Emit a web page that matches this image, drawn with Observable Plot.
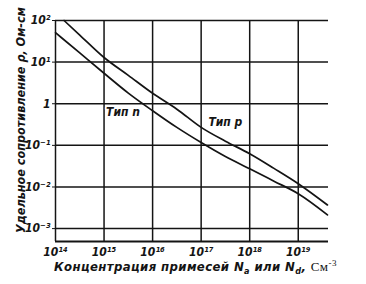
<!DOCTYPE html>
<html><head><meta charset="utf-8">
<script src="https://cdn.jsdelivr.net/npm/d3@7"></script>
<script src="https://cdn.jsdelivr.net/npm/@observablehq/plot@0.6"></script>
<style>body{margin:0;background:#fff}</style>
</head><body><div id="chart"></div>
<script>
// Concentrations (cm^-3) and resistivities (Ohm·cm)
const concN = [1e14, 3.16e14, 1e15, 3.16e15, 1e16, 3.16e16, 1e17, 3.16e17, 1e18, 3.16e18, 1e19, 4.0e19];
const rhoN  = [51, 16.6, 5.4, 1.8, 0.68, 0.27, 0.117, 0.054, 0.0275, 0.0138, 0.0069, 0.00214];
const concP = [1.5e14, 3.16e14, 1e15, 3.16e15, 1e16, 3.16e16, 1e17, 3.16e17, 1e18, 3.16e18, 1e19, 4.0e19];
const rhoP  = [100, 44.7, 12.9, 4.8, 1.78, 0.74, 0.27, 0.126, 0.063, 0.028, 0.012, 0.0037];

const xTicks = [1e14, 1e15, 1e16, 1e17, 1e18, 1e19];
const xTickLabels = ["10¹⁴", "10¹⁵", "10¹⁶", "10¹⁷", "10¹⁸", "10¹⁹"];
const yTicks = [100, 10, 1, 0.1, 0.01, 0.001];
const yTickLabels = ["10²", "10¹", "1", "10⁻¹", "10⁻²", "10⁻³"];
const xDomain = [1e14, 4.2e19];
const yDomain = [4.9e-4, 100];

const curveLabels = [
  {name: "Тип n", x: 1.1e15, y: 0.645},
  {name: "Тип p", x: 1.41e17, y: 0.355}
];

const seriesN = concN.map((c, i) => ({c, r: rhoN[i]}));
const seriesP = concP.map((c, i) => ({c, r: rhoP[i]}));

const ink = "#141414";
const fontFam = "'DejaVu Sans Condensed', 'DejaVu Sans', sans-serif";

const chart = Plot.plot({
  width: 366, height: 284,
  marginLeft: 55, marginRight: 38, marginTop: 20, marginBottom: 43,
  style: {fontFamily: fontFam, fontStyle: "italic", fontWeight: "bold", fontSize: "12px", color: ink, background: "#fff", overflow: "visible"},
  x: {type: "log", domain: xDomain, ticks: xTicks, tickFormat: d => xTickLabels[xTicks.indexOf(d)], tickSize: 0, tickPadding: 6, label: null},
  y: {type: "log", domain: yDomain, ticks: yTicks, tickFormat: d => yTickLabels[yTicks.indexOf(d)], tickSize: 3, tickPadding: 2, label: null},
  marks: [
    Plot.ruleX(xTicks, {stroke: ink, strokeWidth: 1.5}),
    Plot.ruleY(yTicks, {stroke: ink, strokeWidth: 1.5}),
    Plot.ruleY([yDomain[0]], {stroke: ink, strokeWidth: 1.8}),
    Plot.line(seriesN, {x: "c", y: "r", stroke: ink, strokeWidth: 1.7, curve: "monotone-x"}),
    Plot.line(seriesP, {x: "c", y: "r", stroke: ink, strokeWidth: 1.7, curve: "monotone-x"}),
    Plot.text(curveLabels, {x: "x", y: "y", text: "name", textAnchor: "start", fontSize: 12, fontStyle: "italic", fontWeight: "bold", fill: ink, stroke: "#fff", strokeWidth: 3, paintOrder: "stroke"})
  ]
});

const svg = d3.select(chart);
svg.append("text")
  .attr("transform", "translate(21,120) rotate(-90)")
  .attr("text-anchor", "middle")
  .attr("font-family", fontFam)
  .attr("font-style", "italic").attr("font-weight", "bold")
  .attr("font-size", 12.5).attr("fill", ink)
  .attr("dominant-baseline", "middle")
  .text("Удельное сопротивление ρ, Ом-см");

const xt = svg.append("text")
  .attr("x", 54).attr("y", 271)
  .attr("text-anchor", "start")
  .attr("letter-spacing", 0.4)
  .attr("font-family", fontFam)
  .attr("font-style", "italic").attr("font-weight", "bold")
  .attr("font-size", 13).attr("fill", ink);
xt.append("tspan").text("Концентрация примесей N");
xt.append("tspan").attr("font-size", 9).attr("dy", 3).text("a");
xt.append("tspan").attr("dy", -3).text(" или N");
xt.append("tspan").attr("font-size", 9).attr("dy", 3).text("d");
xt.append("tspan").attr("dy", -3).text(", ");
xt.append("tspan").attr("font-family", "'Liberation Serif', serif").attr("font-style", "normal").attr("font-weight", "normal").attr("font-size", 13).text("См");
xt.append("tspan").attr("font-family", "'Liberation Serif', serif").attr("font-style", "normal").attr("font-weight", "normal").attr("font-size", 9).attr("dy", -5).text("-3");

document.getElementById("chart").appendChild(chart);
</script>
</body></html>
